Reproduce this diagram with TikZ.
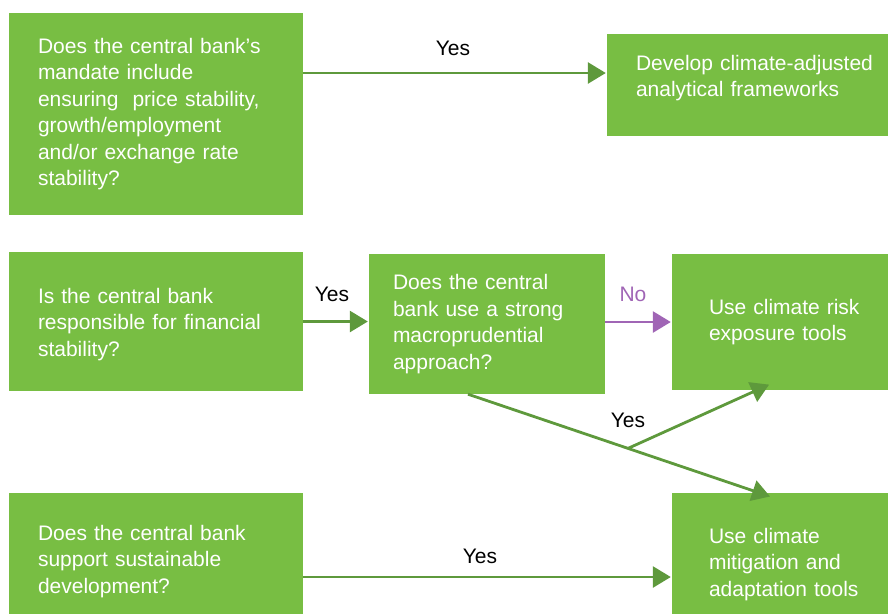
\documentclass[tikz,border=0pt]{standalone}
\usepackage{fontspec}
\setmainfont{Liberation Sans}
\usepackage{xcolor}
\usepackage{tikz}
\usetikzlibrary{positioning, arrows.meta, calc}
\definecolor{boxgreen}{RGB}{120, 190, 67}
\definecolor{arrowgreen}{RGB}{94, 153, 60}
\definecolor{nopurple}{RGB}{160, 101, 181}

\begin{document}
\begin{tikzpicture}[x=1pt, y=-1pt,
  qbox/.style={rectangle, fill=boxgreen, text=white, align=left,
    inner sep=0pt, font=\fontsize{21}{26.5}\selectfont},
  conn/.style={draw=arrowgreen, line width=2.8pt,
    -{Triangle[length=18pt, width=21pt]}, shorten >=1pt},
  noconn/.style={conn, draw=nopurple},
  answer/.style={font=\fontsize{21}{26.5}\selectfont, inner sep=0pt}
]
  \useasboundingbox (0,0) rectangle (888,614);

  % mandate -> analytical frameworks
  \node[qbox, minimum width=294pt, minimum height=202pt, text width=236pt]
    (mandate) at (156,114) {Does the central bank’s\\mandate include\\ensuring\ \ price stability,\\growth/employment\\and/or exchange rate\\stability?};
  \node[qbox, minimum width=281pt, minimum height=102pt, text width=223pt,
    text depth=45pt]
    (frame) at (747.5,85) {\mbox{Develop climate-adjusted}\\analytical frameworks};

  % financial stability row
  \node[qbox, minimum width=294pt, minimum height=139pt, text width=236pt,
    text height=21pt]
    (finstab) at (156,321.5) {Is the central bank\\responsible for financial\\stability?};
  \node[qbox, minimum width=236pt, minimum height=140pt, text width=188pt]
    (macro) at (487,324) {Does the central\\bank use a strong\\macroprudential\\approach?};
  \node[qbox, minimum width=216pt, minimum height=136pt, text width=142pt]
    (exposure) at (780,322) {\mbox{Use climate risk}\\exposure tools};

  % sustainable development row
  \node[qbox, minimum width=294pt, minimum height=121pt, text width=236pt,
    text height=31pt]
    (sustain) at (156,553.5) {Does the central bank\\support sustainable\\development?};
  \node[qbox, minimum width=216pt, minimum height=121pt, text width=142pt,
    text height=37pt]
    (mitig) at (780,553.5) {\mbox{Use climate}\\\mbox{mitigation and}\\\mbox{adaptation tools}};

  % connectors
  \draw[conn] ([yshift=41pt]mandate.east) -- ([yshift=12pt]frame.west);
  \draw[conn] (finstab.east) -- (finstab.east -| macro.west);
  \draw[noconn] (exposure.west -| macro.east) -- (exposure.west);
  \draw[conn] ([yshift=-23.5pt]sustain.east) -- ([yshift=-23.5pt]sustain.east -| mitig.west);

  \coordinate (yesfrom) at ([xshift=-19pt]macro.south);
  \coordinate (yesto) at ([xshift=-9pt, yshift=-4pt]mitig.north);
  \coordinate (split) at ($(yesfrom)!0.528!(yesto)$);
  \draw[conn] (yesfrom) -- (yesto);
  \draw[conn] (split) -- ([xshift=-10pt, yshift=6pt]exposure.south);

  % answers
  \node[answer] (yes1) at (453,48) {Yes};
  \node[answer] (yes2) at (332,294) {Yes};
  \node[answer, text=nopurple] (no1) at (633,294) {No};
  \node[answer] (yes3) at (628,420) {Yes};
  \node[answer] (yes4) at (480,556) {Yes};
\end{tikzpicture}
\end{document}
